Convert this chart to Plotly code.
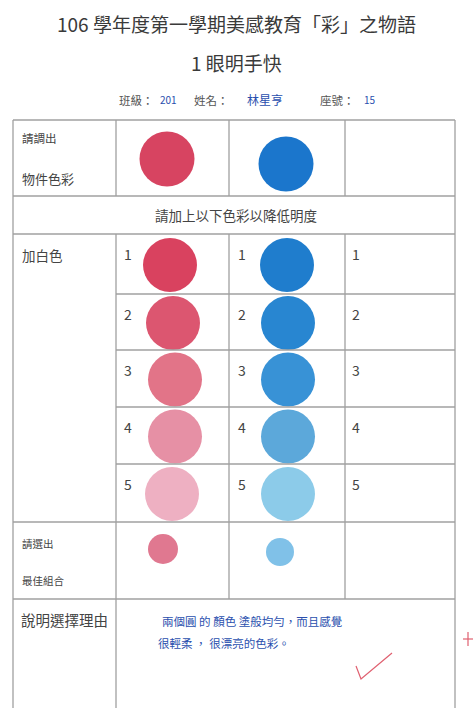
import plotly.graph_objects as go

# ---------------- data ----------------
title_main = "106 學年度第一學期美感教育「彩」之物語"
title_sub = "1 眼明手快"
class_no = "201"
student_name = "林星亨"
seat_no = "15"

object_colors = ["#d74461", "#1b76cc"]          # 請調出 物件色彩
tint_levels = ["1", "2", "3", "4", "5"]        # 加白色 steps
red_tints = ["#d9425f", "#dc5670", "#e27488", "#e690a5", "#eeb0c2"]
blue_tints = ["#1f7dcd", "#2886d1", "#3892d6", "#5ca8da", "#8ccbe9"]
best_colors = ["#e07890", "#80c1e8"]            # 請選出 最佳組合
reason_lines = ["兩個圓 的 顏色 塗般均勻，而且感覺", "很輕柔 ， 很漂亮的色彩。"]

# ---------------- layout constants ----------------
W, H = 473, 708
FONT = "Noto Sans CJK TC"
INK = "#444444"
PEN = "#2a4fae"
LINE = "#a0a0a0"
xL, x1, x2, x3, xR = 13, 116, 229, 345, 455
y_top, y_obj, y_hdr = 120, 196, 234
y_rows = [234, 294, 350, 407, 464, 522]
y_best, y_bot = 599, 708

fig = go.Figure()
shapes = []

def hline(y, xa, xb):
    shapes.append(dict(type="line", x0=xa, x1=xb, y0=y, y1=y, xref="x", yref="y",
                       line=dict(color=LINE, width=1.3)))

def vline(x, ya, yb):
    shapes.append(dict(type="line", x0=x, x1=x, y0=ya, y1=yb, xref="x", yref="y",
                       line=dict(color=LINE, width=1.3)))

hline(y_top, xL, xR)
hline(y_obj, xL, xR)
hline(y_hdr, xL, xR)
for y in y_rows[1:-1]:
    hline(y, x1, xR)
hline(y_rows[-1], xL, xR)
hline(y_best, xL, xR)
vline(xL, y_top, y_bot)
vline(xR, y_top, y_bot)
vline(x1, y_top, y_obj)
vline(x1, y_hdr, y_bot)
for x in (x2, x3):
    vline(x, y_top, y_obj)
    vline(x, y_hdr, y_best)

# red check mark
shapes.append(dict(type="path", path="M 356 666 L 361 679 L 392 653", xref="x", yref="y",
                   line=dict(color="#e06070", width=1.2)))
# red plus at right edge
shapes.append(dict(type="line", x0=463, x1=473, y0=639, y1=639, xref="x", yref="y",
                   line=dict(color="#e06070", width=1.2)))
shapes.append(dict(type="line", x0=468, x1=468, y0=632, y1=646, xref="x", yref="y",
                   line=dict(color="#e06070", width=1.2)))

# ---------------- circles ----------------
mk = dict(opacity=1, line=dict(width=0))
fig.add_trace(go.Scatter(x=[167, 286], y=[159, 164], mode="markers",
                         marker=dict(size=55, color=object_colors, **mk),
                         hoverinfo="skip"))
row_cy = [(y_rows[i] + y_rows[i + 1]) / 2 + 1 for i in range(len(tint_levels))]
fig.add_trace(go.Scatter(x=[170, 173, 175, 175, 172], y=row_cy, mode="markers",
                         marker=dict(size=54, color=red_tints, **mk),
                         hoverinfo="skip"))
fig.add_trace(go.Scatter(x=[287, 288, 288, 288, 288], y=row_cy, mode="markers",
                         marker=dict(size=54, color=blue_tints, **mk),
                         hoverinfo="skip"))
fig.add_trace(go.Scatter(x=[163], y=[549], mode="markers",
                         marker=dict(size=30, color=best_colors[0], **mk), hoverinfo="skip"))
fig.add_trace(go.Scatter(x=[280], y=[552], mode="markers",
                         marker=dict(size=28, color=best_colors[1], **mk), hoverinfo="skip"))

# ---------------- text ----------------
ann = []

def txt(x, y, s, size, color=INK, anchor="left"):
    ann.append(dict(x=x, y=y, text=s, xref="x", yref="y", showarrow=False,
                    xanchor=anchor, yanchor="middle",
                    font=dict(family=FONT, size=size, color=color)))

txt(236, 23, title_main, 19, "#3a3a3a", "center")
txt(236, 62, title_sub, 19, "#3a3a3a", "center")
txt(117, 100, "班級：", 11.5, "#555555")
txt(158, 99, class_no, 10, PEN)
txt(192, 100, "姓名：", 11.5, "#555555")
txt(245, 99, student_name, 12, PEN)
txt(318, 100, "座號：", 11.5, "#555555")
txt(362, 99, seat_no, 10, PEN)

txt(20, 138, "請調出", 11.5)
txt(20, 178, "物件色彩", 13)
txt(236, 215, "請加上以下色彩以降低明度", 13.5, INK, "center")
txt(20, 255, "加白色", 13.5)
for i, lv in enumerate(tint_levels):
    yy = y_rows[i] + 20
    txt(122, yy, lv, 14)
    txt(236, yy, lv, 14)
    txt(350, yy, lv, 14)
txt(20, 543, "請選出", 10.5)
txt(20, 580, "最佳組合", 10.5)
txt(19, 619, "說明選擇理由", 14.5)
txt(160, 621, reason_lines[0], 11.5, PEN)
txt(156, 643, reason_lines[1], 11.5, PEN)

fig.update_layout(
    width=W, height=H, margin=dict(l=0, r=0, t=0, b=0),
    paper_bgcolor="white", plot_bgcolor="white", showlegend=False,
    xaxis=dict(range=[0, W], visible=False, fixedrange=True),
    yaxis=dict(range=[H, 0], visible=False, fixedrange=True),
    shapes=shapes, annotations=ann,
)

fig.write_html("out.html", config={"displayModeBar": False, "staticPlot": True},
               post_script="document.body.style.margin='0';")
